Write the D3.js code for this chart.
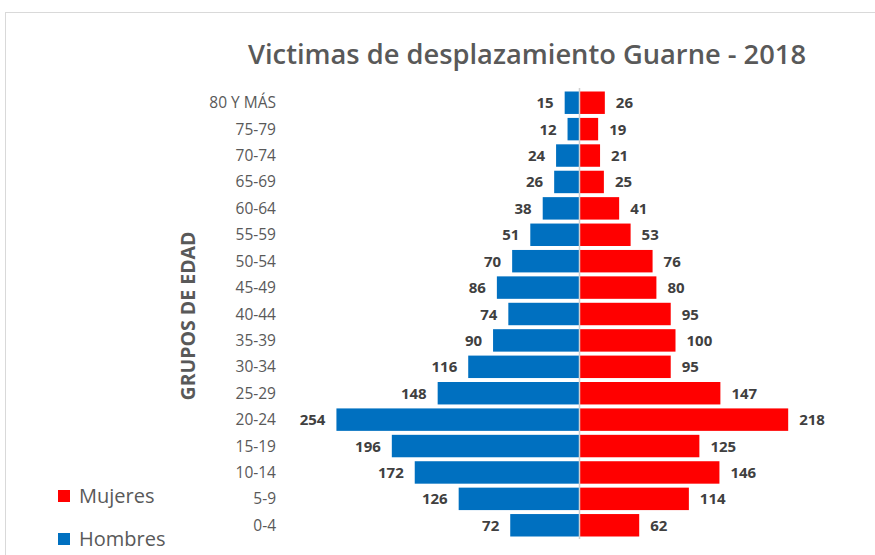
<!DOCTYPE html>
<html>
<head>
<meta charset="utf-8">
<script src="https://d3js.org/d3.v7.min.js"></script>
<style>
body { margin: 0; background: #fff; }
text { font-family: "Open Sans", "Liberation Sans", sans-serif; }
</style>
</head>
<body>
<script>
// age groups, top to bottom
var grupos = ["80 Y MÁS", "75-79", "70-74", "65-69", "60-64", "55-59", "50-54", "45-49",
  "40-44", "35-39", "30-34", "25-29", "20-24", "15-19", "10-14", "5-9", "0-4"];
var hombres = [15, 12, 24, 26, 38, 51, 70, 86, 74, 90, 116, 148, 254, 196, 172, 126, 72];
var mujeres = [26, 19, 21, 25, 41, 53, 76, 80, 95, 100, 95, 147, 218, 125, 146, 114, 62];

var W = 875, H = 555;
var svg = d3.select("body").append("svg")
  .attr("width", W)
  .attr("height", H);

// chart border
svg.append("rect")
  .attr("x", 5.5).attr("y", 12.5)
  .attr("width", 880).attr("height", 560)
  .attr("fill", "none")
  .attr("stroke", "#d9d9d9");

var cx = 579;
var k = 0.955;
var xL = d3.scaleLinear().domain([0, 300]).range([cx, cx - 300 * k]);
var xR = d3.scaleLinear().domain([0, 300]).range([cx + 1, cx + 1 + 300 * k]);
var y = d3.scaleBand().domain(grupos).range([91.5, 536.5]).paddingInner(0.15).paddingOuter(0);

// title
svg.append("text")
  .attr("x", 527).attr("y", 64)
  .attr("text-anchor", "middle")
  .attr("font-size", 27)
  .attr("font-weight", 600)
  .attr("fill", "#595959")
  .attr("textLength", 558)
  .attr("lengthAdjust", "spacingAndGlyphs")
  .text("Victimas  de desplazamiento  Guarne  - 2018");

// bars
svg.selectAll(".h").data(grupos).enter().append("rect")
  .attr("class", "h")
  .attr("x", function(d, i) { return xL(hombres[i]); })
  .attr("y", function(d) { return y(d); })
  .attr("width", function(d, i) { return xL(0) - xL(hombres[i]); })
  .attr("height", y.bandwidth())
  .attr("fill", "#0070c0");

svg.selectAll(".m").data(grupos).enter().append("rect")
  .attr("class", "m")
  .attr("x", xR(0))
  .attr("y", function(d) { return y(d); })
  .attr("width", function(d, i) { return xR(mujeres[i]) - xR(0); })
  .attr("height", y.bandwidth())
  .attr("fill", "#ff0000");

// center axis
svg.append("line")
  .attr("x1", cx + 0.5).attr("x2", cx + 0.5)
  .attr("y1", 88).attr("y2", 539)
  .attr("stroke", "#d0d0d0").attr("stroke-width", 1.5);

// value labels
svg.selectAll(".lh").data(grupos).enter().append("text")
  .attr("x", function(d, i) { return xL(hombres[i]) - 11; })
  .attr("y", function(d) { return y(d) + y.bandwidth() / 2 + 5.5; })
  .attr("text-anchor", "end")
  .attr("font-size", 15)
  .attr("font-weight", "bold")
  .attr("fill", "#404040")
  .text(function(d, i) { return hombres[i]; });

svg.selectAll(".lm").data(grupos).enter().append("text")
  .attr("x", function(d, i) { return xR(mujeres[i]) + 11; })
  .attr("y", function(d) { return y(d) + y.bandwidth() / 2 + 5.5; })
  .attr("font-size", 15)
  .attr("font-weight", "bold")
  .attr("fill", "#404040")
  .text(function(d, i) { return mujeres[i]; });

// category labels
svg.selectAll(".cat").data(grupos).enter().append("text")
  .attr("x", 276)
  .attr("y", function(d) { return y(d) + y.bandwidth() / 2 + 5.5; })
  .attr("text-anchor", "end")
  .attr("font-size", 15.5)
  .attr("fill", "#595959")
  .text(function(d) { return d; });

// axis title
svg.append("text")
  .attr("transform", "translate(195,316) rotate(-90)")
  .attr("text-anchor", "middle")
  .attr("font-size", 19.5)
  .attr("font-weight", "bold")
  .attr("fill", "#595959")
  .text("GRUPOS DE EDAD");

// legend
var legend = [["Mujeres", "#ff0000", 496], ["Hombres", "#0070c0", 539]];
legend.forEach(function(l) {
  svg.append("rect")
    .attr("x", 58).attr("y", l[2] - 6)
    .attr("width", 12).attr("height", 12)
    .attr("fill", l[1]);
  svg.append("text")
    .attr("x", 79).attr("y", l[2] + 7)
    .attr("font-size", 20)
    .attr("fill", "#595959")
    .text(l[0]);
});
</script>
</body>
</html>
